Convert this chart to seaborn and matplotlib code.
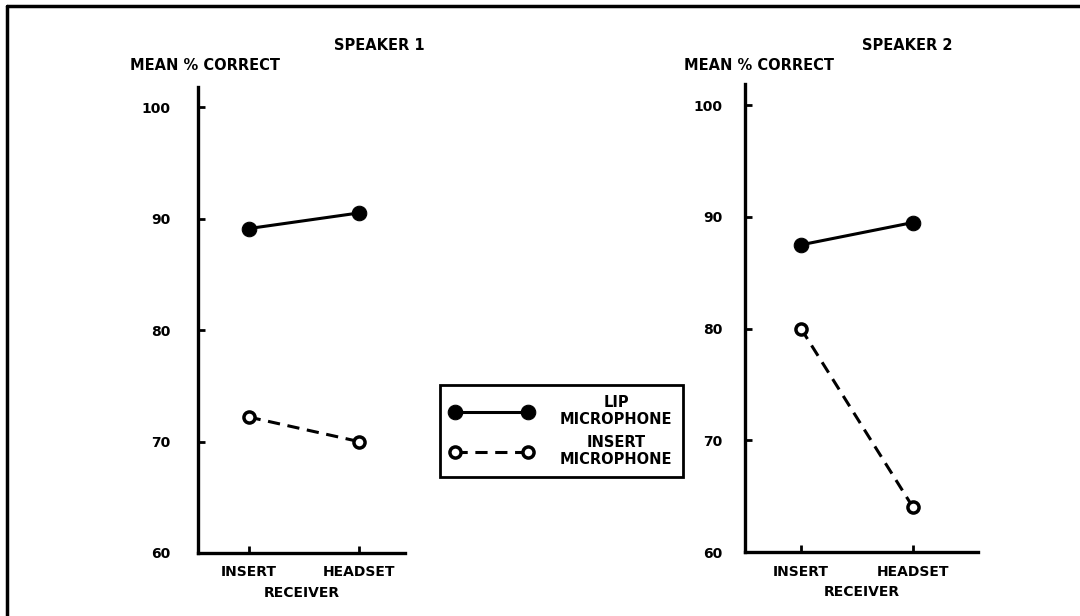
import pandas as pd
import matplotlib
matplotlib.use('Agg')
import matplotlib.pyplot as plt
from matplotlib.lines import Line2D
import seaborn as sns

# values
receivers = ['INSERT', 'HEADSET']
s1_lip = [89.1, 90.5]
s1_insert = [72.2, 70.0]
s2_lip = [87.5, 89.5]
s2_insert = [80.0, 64.0]
yticks = [60, 70, 80, 90, 100]

sns.set_style('white')
plt.rcParams['font.family'] = ['DejaVu Sans']
plt.rcParams['font.weight'] = 'bold'
plt.rcParams['text.color'] = 'black'
plt.rcParams['axes.labelcolor'] = 'black'

W, H = 1080, 616
fig = plt.figure(figsize=(W / 100, H / 100), dpi=100)

# axes boxes in pixel terms (left, right, bottom, top)
ax1 = fig.add_axes([198 / W, 1 - 553 / H, 207 / W, (553 - 87) / H])
ax2 = fig.add_axes([745 / W, 1 - 552 / H, 233 / W, (552 - 84) / H])


def draw_panel(ax, lip, insert, xlim, ytop, ypad):
    df_lip = pd.DataFrame({'receiver': receivers, 'pct': lip})
    df_ins = pd.DataFrame({'receiver': receivers, 'pct': insert})
    sns.lineplot(data=df_lip, x='receiver', y='pct', ax=ax, sort=False,
                 color='black', lw=2.2, marker='o', markersize=10.5,
                 markerfacecolor='black', markeredgecolor='black',
                 label='LIP\nMICROPHONE')
    sns.lineplot(data=df_ins, x='receiver', y='pct', ax=ax, sort=False,
                 color='black', lw=2.2, marker='o', markersize=8,
                 markerfacecolor='white', markeredgecolor='black',
                 markeredgewidth=2.5, dashes=(4, 2.5),
                 label='INSERT\nMICROPHONE')
    ax.set_xlim(*xlim)
    ax.set_ylim(60, ytop)
    ax.set_yticks(yticks)
    ax.set_yticklabels([str(t) for t in yticks])
    ax.set_xlabel('RECEIVER', fontsize=10, fontweight='bold', labelpad=5)
    ax.set_ylabel('')
    for s in ['top', 'right']:
        ax.spines[s].set_visible(False)
    for s in ['left', 'bottom']:
        ax.spines[s].set_linewidth(2.4)
        ax.spines[s].set_color('black')
    ax.tick_params(axis='both', direction='in', length=5, width=2,
                   labelsize=10, colors='black', left=True, bottom=True)
    ax.tick_params(axis='y', pad=ypad)
    ax.tick_params(axis='x', pad=9)
    for lab in ax.get_xticklabels() + ax.get_yticklabels():
        lab.set_fontweight('bold')
    ax.get_legend().remove()


draw_panel(ax1, s1_lip, s1_insert, (-0.46, 1.42), 101.8, 20)
draw_panel(ax2, s2_lip, s2_insert, (-0.5, 1.58), 101.9, 16)

# titles and y-axis captions
fig.text(379 / W, 1 - 45 / H, 'SPEAKER 1', ha='center', va='center',
         fontsize=10.5, fontweight='bold')
fig.text(907 / W, 1 - 45 / H, 'SPEAKER 2', ha='center', va='center',
         fontsize=10.5, fontweight='bold')
fig.text(130 / W, 1 - 65 / H, 'MEAN % CORRECT', ha='left', va='center',
         fontsize=10.5, fontweight='bold')
fig.text(684 / W, 1 - 65 / H, 'MEAN % CORRECT', ha='left', va='center',
         fontsize=10.5, fontweight='bold')

# legend in the middle
handles, labels = ax1.get_legend_handles_labels()
leg = fig.legend(handles, labels, loc='center', numpoints=2,
                 bbox_to_anchor=((433 + 690) / 2 / W, 1 - (385 + 477) / 2 / H),
                 frameon=True, fancybox=False, edgecolor='black', framealpha=1,
                 fontsize=10.5, handlelength=5.6, handletextpad=1.9,
                 labelspacing=0.5, borderpad=0.7, borderaxespad=0)
leg.get_frame().set_linewidth(2)
for t in leg.get_texts():
    t.set_fontweight('bold')
    t.set_multialignment('center')
    t.set_color('black')

# page frame (top and left edges only)
fig.add_artist(Line2D([7 / W, 1], [1 - 6 / H, 1 - 6 / H], color='black', lw=2.5))
fig.add_artist(Line2D([7 / W, 7 / W], [0, 1 - 6 / H], color='black', lw=2.5))

fig.savefig('out.png', dpi=100)
